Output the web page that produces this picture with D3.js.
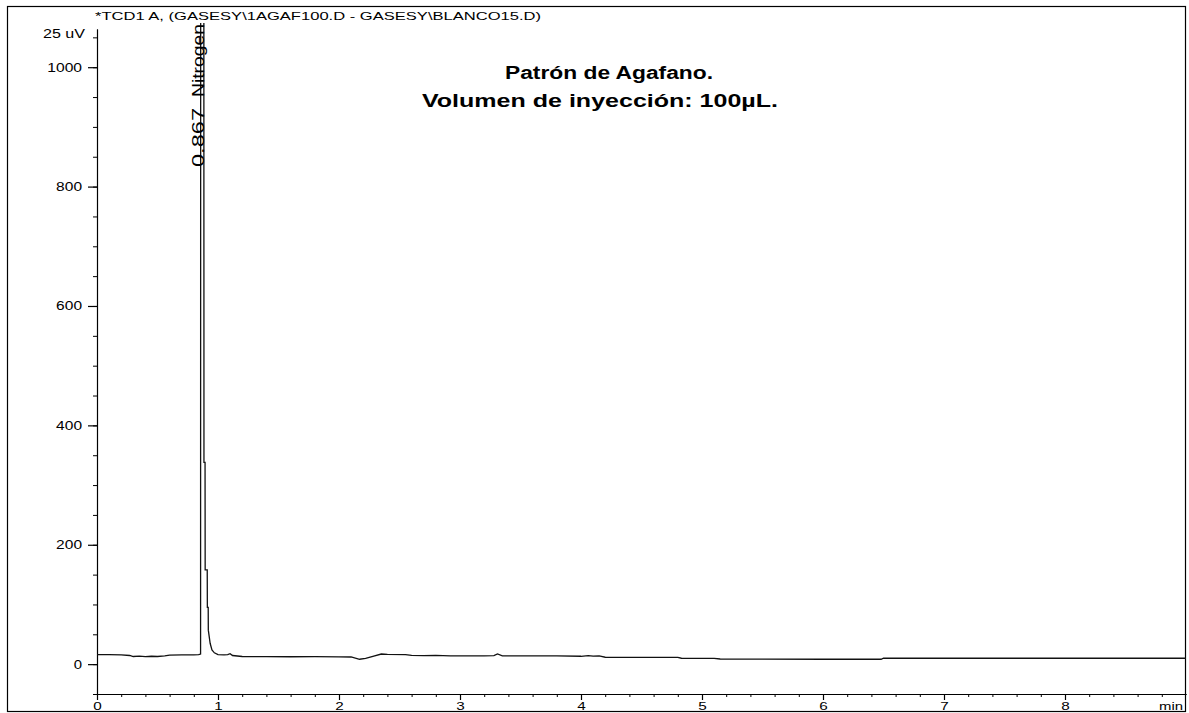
<!DOCTYPE html>
<html>
<head>
<meta charset="utf-8">
<script src="https://cdn.jsdelivr.net/npm/d3@7"></script>
<style>
  html, body { margin: 0; padding: 0; background: #fff; }
  svg { display: block; }
  text { font-family: "Liberation Sans", Arial, sans-serif; fill: #000; }
</style>
</head>
<body>
<svg id="chart" width="1189" height="713"></svg>
<script>
// ---- data ----
const headerText = "*TCD1 A,  (GASESY\\1AGAF100.D - GASESY\\BLANCO15.D)";
const titleLines = ["Patrón de Agafano.", "Volumen de inyección: 100µL."];
const peakRT = "0.867";
const peakName = "Nitrogen";
const unitLabel = "25 uV";
const xMajorTicks = [0, 1, 2, 3, 4, 5, 6, 7, 8];
const yMajorTicks = [0, 200, 400, 600, 800, 1000];
const xUnit = "min";

const timeMin = [0, 0.1, 0.2, 0.27, 0.3, 0.35, 0.4, 0.45, 0.5, 0.56, 0.6, 0.7, 0.8, 0.84, 0.856,
  0.857, 0.883, 0.884, 0.893, 0.894, 0.911, 0.912, 0.919, 0.92, 0.935, 0.95, 0.97, 1.0, 1.05, 1.08,
  1.1, 1.12, 1.2, 1.4, 1.6, 1.8, 2.0, 2.1, 2.17, 2.22, 2.28, 2.35, 2.4, 2.55, 2.6, 2.7, 2.8, 2.92,
  3.0, 3.2, 3.28, 3.31, 3.35, 3.5, 3.8, 4.0, 4.06, 4.1, 4.15, 4.2, 4.5, 4.8, 4.83, 5.1, 5.15, 5.2,
  5.5, 6.0, 6.48, 6.5, 7.0, 8.0, 9.0];
const signal = [16, 16, 15.6, 14.5, 12.8, 13.4, 12.6, 13.2, 12.8, 13.8, 15.2, 15.4, 15.6, 16, 17,
  1200, 1200, 338, 338, 158, 158, 95, 95, 57, 35, 24, 19, 16, 15.6, 16,
  17.5, 14.5, 12.8, 12.6, 12.4, 12.6, 12.3, 12, 8.2, 9.5, 13, 17, 16.4, 16, 14.6, 14.2, 14.6, 14,
  13.8, 13.8, 14.2, 17, 14, 13.8, 13.7, 13.2, 14.2, 13.3, 13.8, 11.6, 11.5, 11.3, 9.9, 9.8, 8.6, 8.4,
  8.3, 8.2, 8.2, 9.9, 9.9, 9.9, 9.9];

// ---- layout ----
const svg = d3.select("#chart");
const frame = {left: 7.5, top: 6.5, right: 1185.5, bottom: 711.5};
const x = d3.scaleLinear().domain([0, 9]).range([97, 1186]);
const y = d3.scaleLinear().domain([-50, 1064]).range([694, 29]);

svg.append("defs").append("clipPath").attr("id", "plotClip")
  .append("rect").attr("x", 97).attr("y", 23).attr("width", 1089).attr("height", 672);

// frame
svg.append("rect").attr("x", frame.left).attr("y", frame.top)
  .attr("width", frame.right - frame.left).attr("height", frame.bottom - frame.top)
  .attr("fill", "none").attr("stroke", "#000").attr("stroke-width", 1.2);

// header
svg.append("text").attr("x", 95).attr("y", 19.5)
  .attr("font-size", 11.5).attr("textLength", 446).attr("lengthAdjust", "spacingAndGlyphs")
  .text(headerText);

// y axis minor ticks
const yMinor = d3.range(-50, 1051, 50);
svg.append("g").attr("transform", "translate(97,0)")
  .call(d3.axisLeft(y).tickValues(yMinor).tickSize(4).tickSizeOuter(0).tickFormat(""))
  .call(g => g.selectAll("path,line").attr("stroke", "#000"));
// y axis major ticks
const gy = svg.append("g").attr("transform", "translate(97,0)")
  .call(d3.axisLeft(y).tickValues(yMajorTicks).tickSize(9).tickSizeOuter(0).tickPadding(6)
    .tickFormat(d3.format("d")));
gy.selectAll("path,line").attr("stroke", "#000").attr("stroke-width", 1.2);
gy.selectAll("text").attr("font-size", 12.5).attr("font-family", "Liberation Sans, Arial, sans-serif")
  .attr("fill", "#000")
  .each(function(d) {
    const s = String(d);
    d3.select(this).attr("textLength", s.length * 8.8 - 0.5).attr("lengthAdjust", "spacingAndGlyphs");
  });
// unit label at top of y axis
svg.append("text").attr("x", 85).attr("y", y(1050) + 1)
  .attr("text-anchor", "end")
  .attr("font-size", 12).attr("textLength", 42).attr("lengthAdjust", "spacingAndGlyphs")
  .text(unitLabel);

// x axis minor ticks
const xMinor = d3.range(0, 45).map(i => i * 0.2).filter(v => v <= 9.0001);
svg.append("g").attr("transform", "translate(0,694)")
  .call(d3.axisBottom(x).tickValues(xMinor).tickSize(3).tickSizeOuter(0).tickFormat(""))
  .call(g => g.selectAll("path,line").attr("stroke", "#000"));
// x axis major ticks
const gx = svg.append("g").attr("transform", "translate(0,694)")
  .call(d3.axisBottom(x).tickValues(xMajorTicks).tickSize(6).tickSizeOuter(0).tickPadding(2));
gx.selectAll("path,line").attr("stroke", "#000").attr("stroke-width", 1.2);
gx.selectAll("text").attr("font-size", 11).attr("font-family", "Liberation Sans, Arial, sans-serif")
  .attr("fill", "#000").attr("y", 15.5).attr("dy", 0)
  .attr("textLength", 8.5).attr("lengthAdjust", "spacingAndGlyphs");
svg.append("text").attr("x", 1183).attr("y", 709.5).attr("text-anchor", "end")
  .attr("font-size", 11).attr("textLength", 24).attr("lengthAdjust", "spacingAndGlyphs")
  .text(xUnit);

// trace
const pts = timeMin.map((t, i) => [t, signal[i]]);
svg.append("path").datum(pts).attr("clip-path", "url(#plotClip)")
  .attr("fill", "none").attr("stroke", "#111").attr("stroke-width", 1.3)
  .attr("d", d3.line().x(d => x(d[0])).y(d => y(d[1])));

// peak annotation (rotated, reading bottom to top)
const peakX = 204;
svg.append("text").attr("transform", `translate(${peakX},167) rotate(-90)`)
  .attr("font-size", 16.5).attr("textLength", 59).attr("lengthAdjust", "spacingAndGlyphs")
  .attr("fill", "#222").text(peakRT);
svg.append("text").attr("transform", `translate(${peakX},97) rotate(-90)`)
  .attr("font-size", 16.5).attr("textLength", 73).attr("lengthAdjust", "spacingAndGlyphs")
  .attr("fill", "#222").text(peakName);

// chart title
svg.append("text").attr("x", 505).attr("y", 79)
  .attr("font-size", 18).attr("font-weight", "bold")
  .attr("textLength", 208).attr("lengthAdjust", "spacingAndGlyphs").text(titleLines[0]);
svg.append("text").attr("x", 422).attr("y", 107)
  .attr("font-size", 18).attr("font-weight", "bold")
  .attr("textLength", 356).attr("lengthAdjust", "spacingAndGlyphs").text(titleLines[1]);
</script>
</body>
</html>
